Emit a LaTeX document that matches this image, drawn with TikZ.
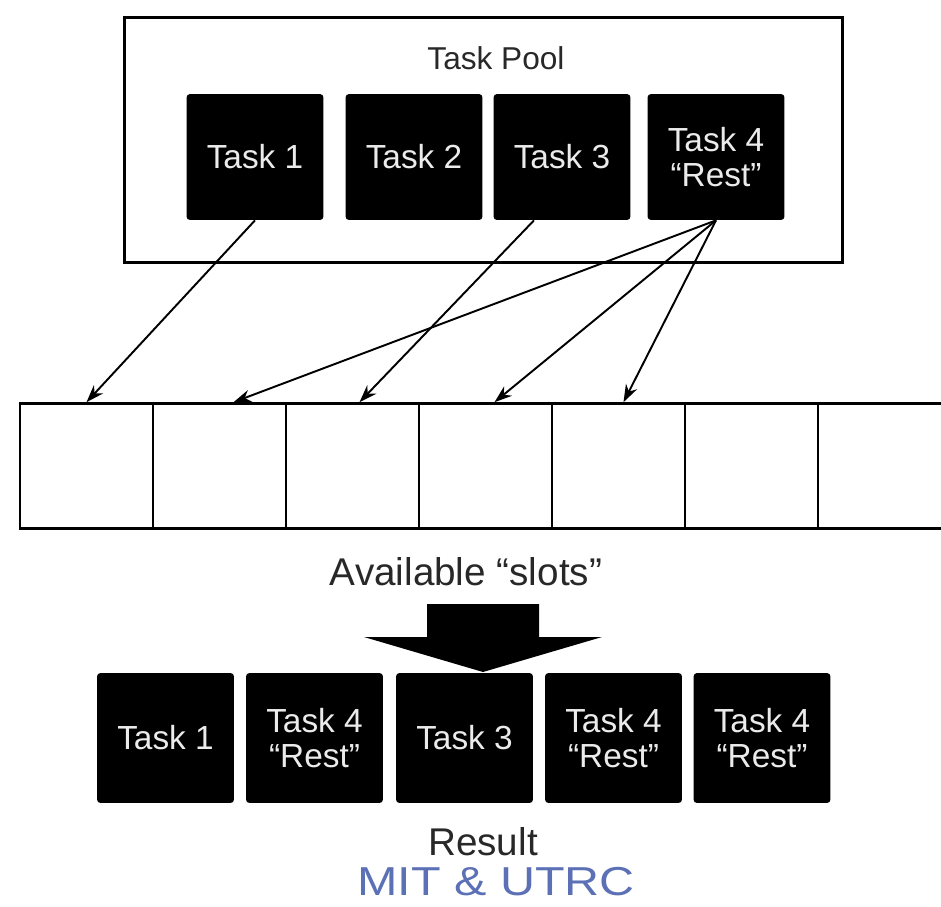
\documentclass[tikz,border=0pt]{standalone}
\usepackage{fontspec}
\setmainfont{Liberation Sans}
\usetikzlibrary{arrows.meta,calc}
\definecolor{utrc}{RGB}{92,112,182}
\definecolor{gristexte}{RGB}{40,40,40}
\tikzset{
  tache/.style={fill=black, text=white!92!black, rounded corners=2pt, inner sep=0pt,
    minimum width=2.74cm, minimum height=2.52cm, align=center,
    font=\fontsize{19}{20}\selectfont},
  resultat/.style={tache, minimum height=2.6cm},
  case/.style={draw, line width=1.5pt, minimum width=2.66cm, minimum height=2.5cm, inner sep=0pt},
  fleche/.style={-{Stealth[length=10pt,width=7pt]}, line width=1.1pt},
  legende/.style={text=gristexte, font=\fontsize{22}{26}\selectfont},
}
\begin{document}
\begin{tikzpicture}[x=0.02cm, y=-0.02cm]
  \useasboundingbox (0,0) rectangle (941,907);
  \clip (0,0) rectangle (941,907);
  % reservoir des taches
  \node[draw, line width=1.7pt, minimum width=14.38cm, minimum height=4.92cm, inner sep=0pt] (pool) at (483.5,140) {};
  \node[text=gristexte, font=\fontsize{18}{22}\selectfont] (titre) at (496,58) {Task Pool};
  \node[tache] (t1) at (255,157) {Task 1};
  \node[tache] (t2) at (414,157) {Task 2};
  \node[tache] (t3) at (562,157) {Task 3};
  \node[tache] (t4) at (716,157) {Task 4\\``Rest''};
  % cases disponibles
  \foreach \i in {1,...,7}
    \node[case] (s\i) at ({86.5+133*(\i-1)},466) {};
  \node[legende] (dispo) at (466,572) {Available ``slots''};
  % affectations
  \draw[fleche] (t1.south) -- (s1.north);
  \draw[fleche] ($(t3.south)+(-28,0)$) -- ($(s3.north)+(7,0)$);
  \draw[fleche] (t4.south) -- ($(s2.north)+(14,0)$);
  \draw[fleche] (t4.south) -- ($(s4.north)+(9,0)$);
  \draw[fleche] (t4.south) -- ($(s5.north)+(5,0)$);
  % grosse fleche
  \fill (427,604) -- (539,604) -- (539,637) -- (602,637) -- (483,672) -- (364,637) -- (427,637) -- cycle;
  % resultat
  \node[resultat] (r1) at (165.5,738) {Task 1};
  \node[resultat] (r2) at (314.5,738) {Task 4\\``Rest''};
  \node[resultat] (r3) at (464.5,738) {Task 3};
  \node[resultat] (r4) at (613.5,738) {Task 4\\``Rest''};
  \node[resultat] (r5) at (762,738) {Task 4\\``Rest''};
  \node[legende] (res) at (483,842) {Result};
  \node[text=utrc, inner sep=0pt, font=\fontsize{23}{27}\selectfont] (mit) at (496,882) {\scalebox{1.2}[1]{MIT \& UTRC}};
\end{tikzpicture}
\end{document}
